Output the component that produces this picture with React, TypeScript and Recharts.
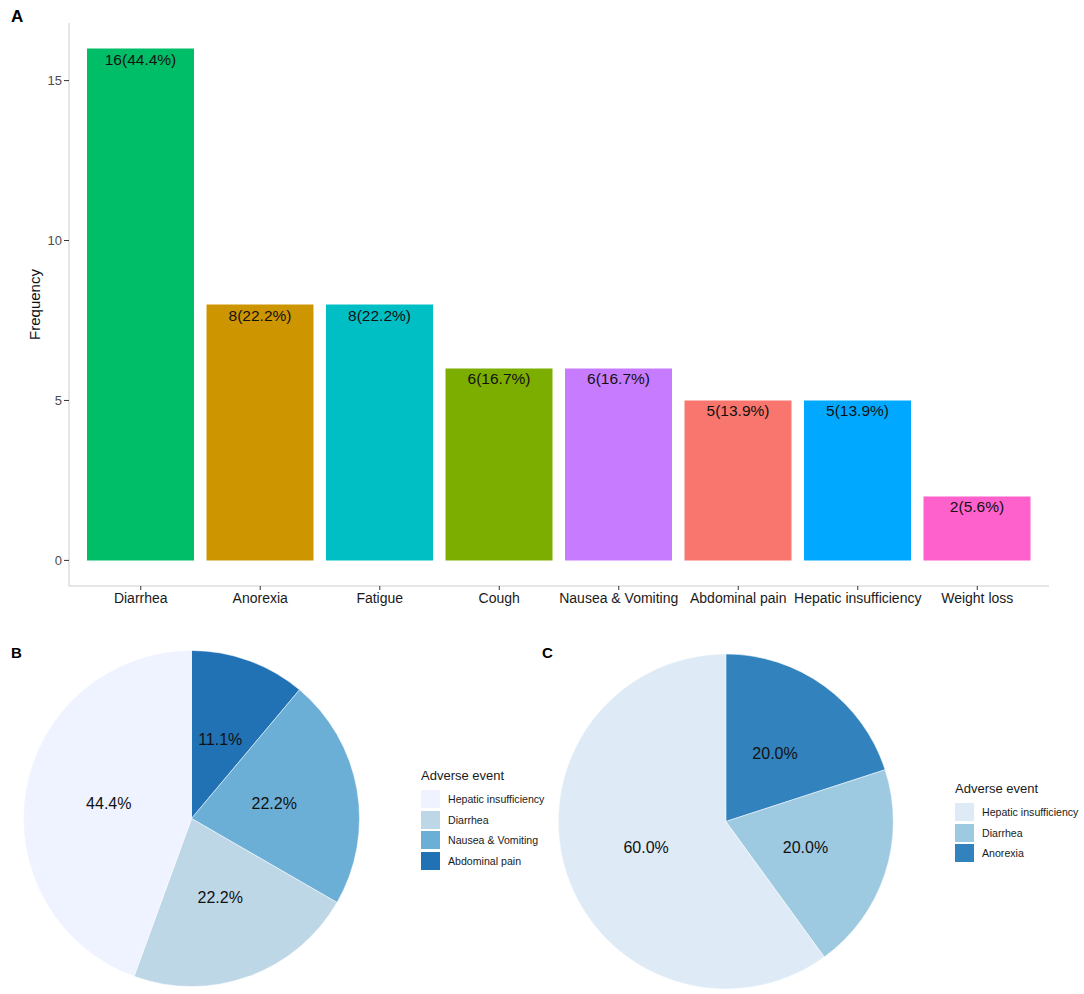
import { Bar, BarChart, Cell, LabelList, Legend, Pie, PieChart, XAxis, YAxis } from 'recharts';

const FONT = '"Liberation Sans", Arial, Helvetica, sans-serif';

// Panel A: adverse event counts (n = 36)
const TOTAL_PATIENTS = 36;
const eventNames = [
  'Diarrhea',
  'Anorexia',
  'Fatigue',
  'Cough',
  'Nausea & Vomiting',
  'Abdominal pain',
  'Hepatic insufficiency',
  'Weight loss',
];
const eventCounts = [16, 8, 8, 6, 6, 5, 5, 2];
const eventColors = ['#00BE67', '#CD9600', '#00BFC4', '#7CAE00', '#C77CFF', '#F8766D', '#00A9FF', '#FF61CC'];
const yTicks = [0, 5, 10, 15];

// Panel B: clockwise from 12 o'clock
const pieBNames = ['Abdominal pain', 'Nausea & Vomiting', 'Diarrhea', 'Hepatic insufficiency'];
const pieBValues = [1, 2, 2, 4];
const pieBColors = ['#2171B5', '#6BAED6', '#BDD7E7', '#EFF3FF'];

// Panel C: clockwise from 12 o'clock
const pieCNames = ['Anorexia', 'Diarrhea', 'Hepatic insufficiency'];
const pieCValues = [1, 1, 3];
const pieCColors = ['#3182BD', '#9ECAE1', '#DEEBF7'];

const barData = eventNames.map((name, i) => ({
  name,
  count: eventCounts[i],
  label: `${eventCounts[i]}(${((eventCounts[i] / TOTAL_PATIENTS) * 100).toFixed(1)}%)`,
}));

function pieRows(names: string[], values: number[], colors: string[]) {
  return names.map((name, i) => ({ name, value: values[i], color: colors[i] }));
}

const RADIAN = Math.PI / 180;

function renderPieLabel(props: any) {
  const { cx, cy, midAngle, outerRadius, percent } = props;
  const r = outerRadius * 0.5;
  const x = cx + r * Math.cos(-midAngle * RADIAN);
  const y = cy + r * Math.sin(-midAngle * RADIAN);
  return (
    <text x={x} y={y} textAnchor="middle" dominantBaseline="central" fontSize={16} fill="#111" fontFamily={FONT}>
      {`${(percent * 100).toFixed(1)}%`}
    </text>
  );
}

function AdverseLegend({ rows }: { rows: { name: string; color: string }[] }) {
  // ggplot lists the legend in factor order, the reverse of the drawing order
  const ordered = [...rows].reverse();
  return (
    <div style={{ fontFamily: FONT, color: '#1a1a1a' }}>
      <div style={{ fontSize: 13, lineHeight: '15px', marginBottom: 6.5, whiteSpace: 'nowrap' }}>Adverse event</div>
      {ordered.map((row) => (
        <div key={row.name} style={{ display: 'flex', alignItems: 'center', height: 20.5 }}>
          <div style={{ width: 18.5, height: 18, background: row.color, marginRight: 8.5 }} />
          <span style={{ fontSize: 10.6, whiteSpace: 'nowrap' }}>{row.name}</span>
        </div>
      ))}
    </div>
  );
}

function PanelLetter({ text, left, top, size }: { text: string; left: number; top: number; size: number }) {
  return (
    <div
      style={{
        position: 'absolute',
        left,
        top,
        fontFamily: FONT,
        fontWeight: 'bold',
        fontSize: size,
        lineHeight: `${size}px`,
        color: '#000',
      }}
    >
      {text}
    </div>
  );
}

export default function App() {
  const rowsB = pieRows(pieBNames, pieBValues, pieBColors);
  const rowsC = pieRows(pieCNames, pieCValues, pieCColors);

  return (
    <div style={{ position: 'absolute', left: 0, top: 0, width: 1084, height: 994, background: '#fff' }}>
      <div style={{ position: 'absolute', left: 0, top: 0 }}>
        <BarChart width={1084} height={640} data={barData} margin={{ top: 23, right: 35, left: 0, bottom: 0 }}>
          <XAxis
            dataKey="name"
            height={54}
            interval={0}
            padding={{ left: 12, right: 12 }}
            tick={{ fontSize: 14, fill: '#1a1a1a', fontFamily: FONT }}
            tickSize={4}
            tickMargin={3}
            tickLine={{ stroke: '#333' }}
            axisLine={{ stroke: '#cccccc' }}
          />
          <XAxis
            xAxisId="top"
            dataKey="name"
            orientation="top"
            height={0}
            tick={false}
            tickLine={false}
            axisLine={{ stroke: '#cccccc' }}
          />
          <YAxis
            width={69}
            domain={[-0.8, 16.8]}
            ticks={yTicks}
            allowDataOverflow
            tick={{ fontSize: 13, fill: '#4d4d4d', fontFamily: FONT }}
            tickSize={5}
            tickMargin={2}
            tickLine={{ stroke: '#333' }}
            axisLine={{ stroke: '#cccccc' }}
            label={{
              value: 'Frequency',
              angle: -90,
              position: 'center',
              dx: 0,
              style: { fontSize: 15, fill: '#111', fontFamily: FONT },
            }}
          />
          <YAxis
            yAxisId="right"
            orientation="right"
            width={0}
            domain={[-0.8, 16.8]}
            tick={false}
            tickLine={false}
            axisLine={{ stroke: '#cccccc' }}
          />
          <Bar dataKey="count" barSize={107} isAnimationActive={false}>
            {barData.map((entry, i) => (
              <Cell key={entry.name} fill={eventColors[i]} />
            ))}
            <LabelList
              dataKey="label"
              position="insideTop"
              offset={5}
              style={{ fontSize: 15.5, fill: '#111', fontFamily: FONT }}
            />
          </Bar>
        </BarChart>
      </div>

      <div style={{ position: 'absolute', left: 0, top: 640 }}>
        <PieChart width={540} height={354} margin={{ top: 0, right: 0, bottom: 0, left: 0 }}>
          <Pie
            data={rowsB}
            dataKey="value"
            nameKey="name"
            cx={191.5}
            cy={178.5}
            outerRadius={168}
            startAngle={90}
            endAngle={-270}
            stroke="#ffffff"
            strokeWidth={0.5}
            label={renderPieLabel}
            labelLine={false}
            isAnimationActive={false}
          >
            {rowsB.map((row) => (
              <Cell key={row.name} fill={row.color} />
            ))}
          </Pie>
          <Legend
            layout="vertical"
            align="right"
            verticalAlign="middle"
            wrapperStyle={{ left: 421, top: 127.5, width: 'auto' }}
            content={() => <AdverseLegend rows={rowsB} />}
          />
        </PieChart>
      </div>

      <div style={{ position: 'absolute', left: 540, top: 640 }}>
        <PieChart width={544} height={354} margin={{ top: 0, right: 0, bottom: 0, left: 0 }}>
          <Pie
            data={rowsC}
            dataKey="value"
            nameKey="name"
            cx={185.8}
            cy={181.5}
            outerRadius={167.5}
            startAngle={90}
            endAngle={-270}
            stroke="#ffffff"
            strokeWidth={0.5}
            label={renderPieLabel}
            labelLine={false}
            isAnimationActive={false}
          >
            {rowsC.map((row) => (
              <Cell key={row.name} fill={row.color} />
            ))}
          </Pie>
          <Legend
            layout="vertical"
            align="right"
            verticalAlign="middle"
            wrapperStyle={{ left: 415, top: 140.5, width: 'auto' }}
            content={() => <AdverseLegend rows={rowsC} />}
          />
        </PieChart>
      </div>

      <PanelLetter text="A" left={11} top={8} size={17} />
      <PanelLetter text="B" left={11} top={645} size={15} />
      <PanelLetter text="C" left={542} top={645} size={15} />
    </div>
  );
}
